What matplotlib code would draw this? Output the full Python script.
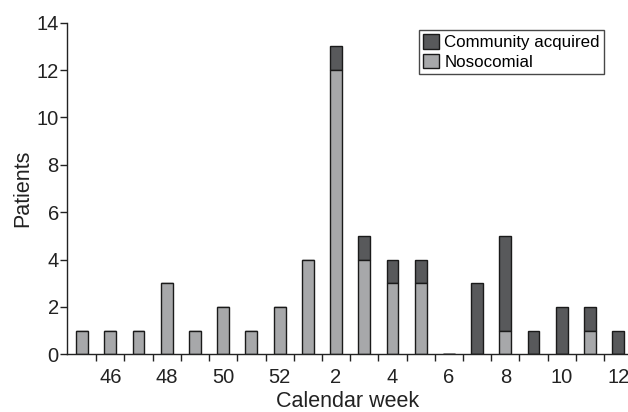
import matplotlib.pyplot as plt
import numpy as np

weeks = [45, 46, 47, 48, 49, 50, 51, 52, 1, 2, 3, 4, 5, 6, 7, 8, 9, 10, 11, 12]
nosocomial = [1, 1, 1, 3, 1, 2, 1, 2, 4, 12, 4, 3, 3, 0, 0, 1, 0, 0, 1, 0]
community = [0, 0, 0, 0, 0, 0, 0, 0, 0, 1, 1, 1, 1, 0, 3, 4, 1, 2, 1, 1]
y_ticks = [0, 2, 4, 6, 8, 10, 12, 14]

plt.rcParams["font.family"] = ["Liberation Sans", "DejaVu Sans"]

fig = plt.figure(figsize=(6.28, 4.12), dpi=100)
ax = fig.add_axes([0.107, 0.14, 0.893, 0.805])

x = np.arange(len(weeks))
width = 0.42
edge = dict(edgecolor="#1a1a1a", linewidth=1.0)
ax.bar(x, community, width, bottom=nosocomial, color="#58595b", label="Community acquired", **edge)
ax.bar(x, nosocomial, width, color="#a7a8aa", label="Nosocomial", **edge)
# week 6 has no patients: keep the flat outline seen in the original
ax.bar([x[weeks.index(6)]], [0], width, color="#58595b", **edge)

ax.set_xlim(-0.53, len(weeks) - 0.65)
ax.set_ylim(0, 14)
ax.set_yticks(y_ticks)

label_pos = [i for i, w in enumerate(weeks) if w % 2 == 0]
ax.set_xticks(label_pos, [str(weeks[i]) for i in label_pos])
ax.set_xticks(x[:-1] + 0.5, minor=True)
ax.tick_params(axis="x", which="major", length=0, pad=10, labelsize=14.5, colors="#222222")
ax.tick_params(axis="x", which="minor", length=5, width=1.0, direction="out", color="#222222")
ax.tick_params(axis="y", length=5, width=1.0, labelsize=14.5, pad=1, colors="#222222")

for side in ("top", "right"):
    ax.spines[side].set_visible(False)
for side in ("left", "bottom"):
    ax.spines[side].set_linewidth(1.0)
    ax.spines[side].set_color("#222222")

ax.set_xlabel("Calendar week", fontsize=15.5, labelpad=3, color="#222222")
ax.set_ylabel("Patients", fontsize=15.5, labelpad=2, color="#222222")

leg = ax.legend(loc="upper right", bbox_to_anchor=(0.957, 0.978), fontsize=12.2,
                frameon=True, fancybox=False, edgecolor="#1a1a1a",
                handlelength=0.95, handleheight=0.95, handletextpad=0.3,
                borderpad=0.25, labelspacing=0.2, borderaxespad=0)
leg.get_frame().set_linewidth(1.0)

fig.savefig("out.png", dpi=100, facecolor="white")
